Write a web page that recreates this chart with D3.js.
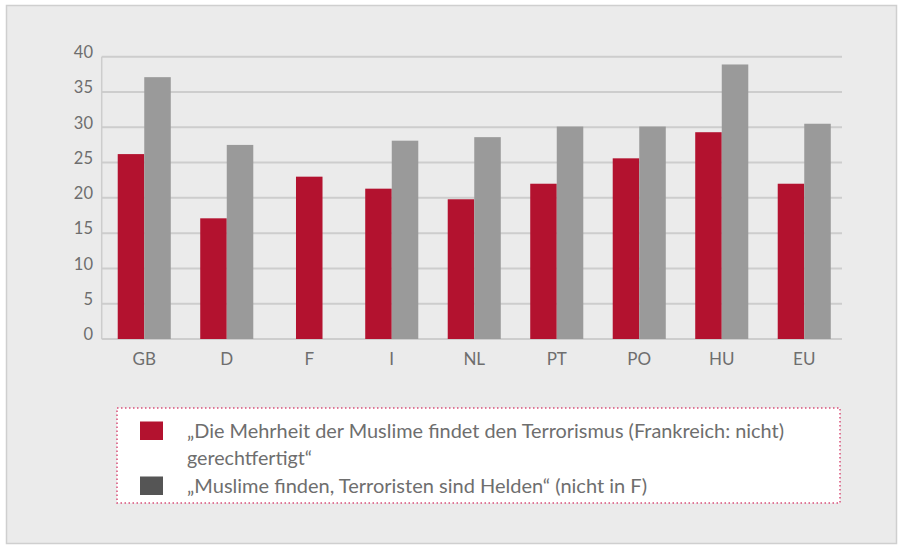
<!DOCTYPE html>
<html><head><meta charset="utf-8">
<script src="https://cdn.jsdelivr.net/npm/d3@7"></script>
<style>body{margin:0;background:#fff}svg{display:block}</style>
</head><body><svg id="c" width="904" height="547"></svg>
<script>
const categories = ["GB","D","F","I","NL","PT","PO","HU","EU"];
const seriesMajority = [26.2,17.1,23.0,21.3,19.8,22.0,25.6,29.3,22.0];
const seriesHeroes = [37.1,27.5,null,28.1,28.6,30.1,30.1,38.9,30.5];
const yTicks = [0,5,10,15,20,25,30,35,40];
const legendLabels = [
  ["„Die Mehrheit der Muslime findet den Terrorismus (Frankreich: nicht)","gerechtfertigt“"],
  ["„Muslime finden, Terroristen sind Helden“ (nicht in F)"]
];

const RED = "#b3122f", GREY = "#9a9a9a", FONT = "Lato, 'Open Sans', sans-serif";
const svg = d3.select("#c");
svg.append("rect").attr("x",0).attr("y",0).attr("width",904).attr("height",547).attr("fill","#fff");
svg.append("rect").attr("x",6.5).attr("y",5.5).attr("width",890).attr("height",538)
  .attr("fill","#ebebeb").attr("stroke","#cfcfcf").attr("stroke-width",1.5);

const y = d3.scaleLinear().domain([0,40]).range([339,56.7]);
const x = d3.scaleBand().domain(categories).range([103,845.5]).paddingInner(0.357).paddingOuter(0.1785);
const xs = d3.scaleBand().domain(["a","b"]).range([0,x.bandwidth()]);

// grid
const g = svg.append("g");
g.selectAll("line.grid").data(yTicks).join("line")
  .attr("x1",101.7).attr("x2",842).attr("y1",d=>y(d)).attr("y2",d=>y(d))
  .attr("stroke","#cdcdcd").attr("stroke-width",2);
g.append("line").attr("x1",101.7).attr("x2",101.7).attr("y1",y(40)).attr("y2",y(0))
  .attr("stroke","#cdcdcd").attr("stroke-width",1.5);

// y labels
g.selectAll("text.yt").data(yTicks).join("text")
  .attr("x",93).attr("y",d=>y(d)-4.5).attr("dy","0.35em").attr("text-anchor","end")
  .attr("font-family",FONT).attr("font-size",16.5).attr("fill","#6e6e6e").text(d=>d);

// bars
const bars = svg.append("g");
categories.forEach((c,i)=>{
  const hasB = seriesHeroes[i] != null;
  const xa = hasB ? x(c)+xs("a") : x(c)+x.bandwidth()/2 - xs.bandwidth()/2;
  bars.append("rect").attr("x",xa).attr("width",xs.bandwidth())
    .attr("y",y(seriesMajority[i])).attr("height",y(0)-y(seriesMajority[i])).attr("fill",RED);
  if(hasB){
    bars.append("rect").attr("x",x(c)+xs("b")).attr("width",xs.bandwidth())
      .attr("y",y(seriesHeroes[i])).attr("height",y(0)-y(seriesHeroes[i])).attr("fill",GREY);
  }
});

// x labels
svg.selectAll("text.xl").data(categories).join("text")
  .attr("x",d=>x(d)+x.bandwidth()/2).attr("y",359.5).attr("dy","0.35em").attr("text-anchor","middle")
  .attr("font-family",FONT).attr("font-size",17).attr("fill","#6e6e6e").text(d=>d);

// legend
const lg = svg.append("g");
lg.append("rect").attr("x",117).attr("y",408).attr("width",723).attr("height",95)
  .attr("fill","#fff").attr("stroke","#d9507a").attr("stroke-width",1.5).attr("stroke-dasharray","1.5,2.5");
lg.append("rect").attr("x",140).attr("y",421.5).attr("width",23).attr("height",18.5).attr("fill",RED);
lg.append("rect").attr("x",140).attr("y",476.5).attr("width",23).attr("height",18.5).attr("fill","#555555");
const lt = lg.append("g").attr("font-family",FONT).attr("font-size",19).attr("fill","#6e6e6e");
lt.append("text").attr("x",187).attr("y",437.5).attr("textLength",597).attr("lengthAdjust","spacingAndGlyphs").text(legendLabels[0][0]);
lt.append("text").attr("x",187).attr("y",465).attr("textLength",125).attr("lengthAdjust","spacingAndGlyphs").text(legendLabels[0][1]);
lt.append("text").attr("x",187).attr("y",492.5).attr("textLength",460).attr("lengthAdjust","spacingAndGlyphs").text(legendLabels[1][0]);
</script></body></html>
